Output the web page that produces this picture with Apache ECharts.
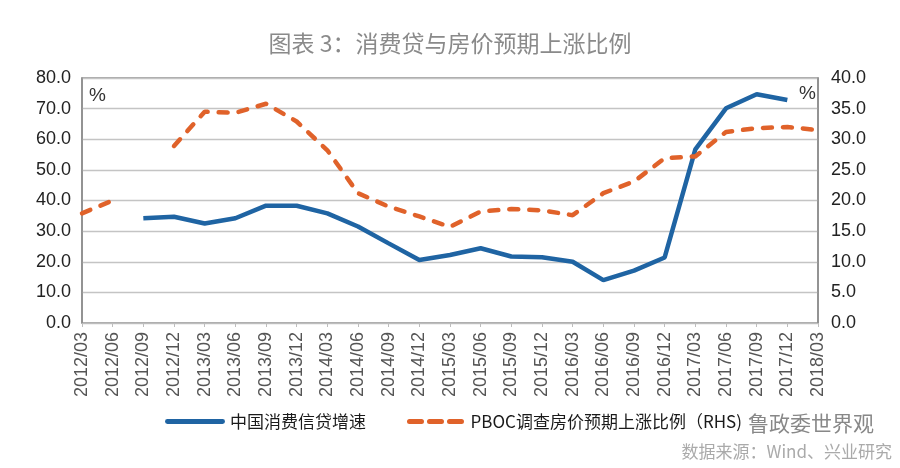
<!DOCTYPE html>
<html>
<head>
<meta charset="utf-8">
<script src="https://cdn.jsdelivr.net/npm/echarts@6/dist/echarts.min.js"></script>
<style>
html,body{margin:0;padding:0;background:#fff;}
#c{width:900px;height:468px;}
</style>
</head>
<body>
<div id="c"></div>
<script>
var categories = ['2012/03','2012/06','2012/09','2012/12','2013/03','2013/06','2013/09','2013/12','2014/03','2014/06','2014/09','2014/12','2015/03','2015/06','2015/09','2015/12','2016/03','2016/06','2016/09','2016/12','2017/03','2017/06','2017/09','2017/12','2018/03'];
var creditGrowth = [null,null,34.2,34.7,32.5,34.2,38.3,38.3,35.8,31.5,26.0,20.6,22.2,24.4,21.7,21.5,20.0,14.0,17.1,21.4,56.7,70.1,74.7,72.8,null];
var housePriceExp = [17.9,20.0,null,28.9,34.5,34.3,35.8,32.9,28.2,21.2,19.0,17.4,15.7,18.2,18.6,18.4,17.6,21.2,23.1,26.9,27.2,31.2,31.8,32.0,31.5];
var leftTicks = {min:0,max:80,interval:10};
var rightTicks = {min:0,max:40,interval:5};
var seriesNames = ['中国消费信贷增速','PBOC调查房价预期上涨比例（RHS)'];

var chart = echarts.init(document.getElementById('c'), null, {renderer:'canvas'});
var axisFont = 'Liberation Sans, Arial, sans-serif';
var cjk = '"Noto Sans CJK SC", sans-serif';
chart.setOption({
  backgroundColor:'#fff',
  animation:false,
  title:{
    text:'图表 3：消费贷与房价预期上涨比例',
    left:'center', top:27,
    textStyle:{fontFamily:cjk,fontSize:23,fontWeight:'normal',color:'#8a8a8a'}
  },
  legend:{
    left:160, top:408,
    itemWidth:60, itemHeight:5, itemGap:41,
    textStyle:{fontFamily:cjk,fontSize:17,color:'#1a1a1a'},
    data:[
      {name:seriesNames[0],icon:'path://M2,0H58A2,2,0,0,1,58,5H2A2,2,0,0,1,2,0Z'},
      {name:seriesNames[1],icon:'path://M2,0H14A2,2,0,0,1,14,5H2A2,2,0,0,1,2,0Z M22,0H34A2,2,0,0,1,34,5H22A2,2,0,0,1,22,0Z M42,0H54A2,2,0,0,1,54,5H42A2,2,0,0,1,42,0Z'}
    ]
  },
  grid:{left:82,right:82,top:78,bottom:145,show:true,borderColor:'#8c8c8c',borderWidth:1.5},
  xAxis:{
    type:'category', data:categories, boundaryGap:false,
    axisLine:{lineStyle:{color:'#bdbdbd'}},
    axisTick:{show:true,lineStyle:{color:'#bdbdbd'},length:4},
    axisLabel:{rotate:90,interval:0,margin:9,fontFamily:axisFont,fontSize:18,color:'#555'}
  },
  yAxis:[{
    type:'value', min:leftTicks.min, max:leftTicks.max, interval:leftTicks.interval,
    axisLine:{show:true,lineStyle:{color:'#8c8c8c',width:1.5}},
    axisTick:{show:false},
    splitLine:{lineStyle:{color:'#c4c4c4',width:1.3}},
    axisLabel:{margin:11,fontFamily:axisFont,fontSize:18,color:'#222',formatter:function(v){return v.toFixed(1);}}
  },{
    type:'value', min:rightTicks.min, max:rightTicks.max, interval:rightTicks.interval,
    axisLine:{show:true,lineStyle:{color:'#8c8c8c',width:1.5}},
    axisTick:{show:false},
    splitLine:{show:false},
    axisLabel:{margin:13,fontFamily:axisFont,fontSize:18,color:'#222',formatter:function(v){return v.toFixed(1);}}
  }],
  graphic:[
    {type:'text',left:89,top:86,style:{text:'%',fontFamily:axisFont,fontSize:19,fill:'#333'}},
    {type:'text',left:799,top:84,style:{text:'%',fontFamily:axisFont,fontSize:19,fill:'#333'}},
    {type:'text',left:748,top:413,style:{text:'鲁政委世界观',fontFamily:cjk,fontSize:21,fill:'#888'}},
    {type:'text',right:8,top:443,style:{text:'数据来源：Wind、兴业研究',fontFamily:cjk,fontSize:17,fill:'#aaa'}}
  ],
  series:[{
    name:seriesNames[0], type:'line', yAxisIndex:0, data:creditGrowth,
    symbol:'none', connectNulls:false,
    lineStyle:{color:'#1f64a3',width:4.5},
    itemStyle:{color:'#1f64a3'}
  },{
    name:seriesNames[1], type:'line', yAxisIndex:1, data:housePriceExp,
    symbol:'none', connectNulls:false,
    lineStyle:{color:'#e0622a',width:4.5,type:[9,11],cap:'round'},
    itemStyle:{color:'#e0622a'}
  }]
});
</script>
</body>
</html>
